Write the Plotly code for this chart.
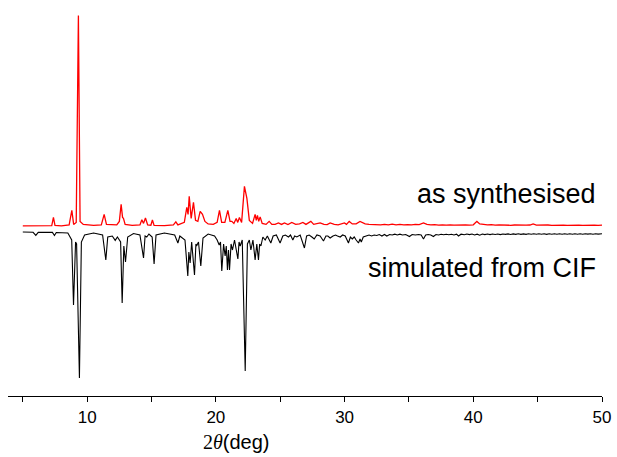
import plotly.graph_objects as go

# ---- data (2theta in degrees, intensity in arbitrary units) ----
exp_2theta = [5.0, 6.0, 7.0, 7.25, 7.38, 7.5, 8.0, 8.6, 8.81, 8.95, 9.15, 9.32, 9.45, 9.7, 10.5,
              11.1, 11.32, 11.5, 12.3, 12.5, 12.64, 12.75, 12.82, 12.95, 13.5, 14.1, 14.25, 14.38,
              14.53, 14.7, 14.95, 15.07, 15.2, 16.0, 16.7, 16.89, 17.05, 17.55, 17.74, 17.84, 17.93,
              18.08, 18.26, 18.42, 18.6, 18.78, 18.96, 19.15, 19.4, 19.8, 20.1, 20.28, 20.45, 20.7,
              20.93, 21.1, 21.24, 21.4, 21.58, 21.7, 21.83, 22.0, 22.22, 22.41, 22.6, 22.85, 23.05,
              23.14, 23.23, 23.33, 23.44, 23.6, 23.9, 24.14, 24.35, 24.6, 24.86, 25.1, 25.33, 25.6,
              25.9, 26.2, 26.5, 26.76, 27.0, 27.38, 27.6, 27.85, 28.1, 28.4, 28.65, 28.88, 29.2,
              29.5, 29.75, 29.99, 30.15, 30.36, 30.6, 30.9, 31.2, 31.4, 31.6, 31.9, 32.2, 32.5,
              32.8, 33.1, 33.4, 33.7, 34.0, 34.3, 34.6, 34.9, 35.2, 35.5, 35.8, 36.13, 36.4, 36.7,
              37.0, 37.3, 37.6, 37.9, 38.2, 38.5, 38.8, 39.1, 39.4, 39.7, 40.0, 40.28, 40.5, 40.8,
              41.1, 41.4, 41.7, 42.0, 42.3, 42.6, 42.9, 43.2, 43.5, 43.8, 44.1, 44.4, 44.65, 44.9,
              45.2, 45.5, 45.8, 46.1, 46.4, 46.7, 47.0, 47.3, 47.6, 47.9, 48.2, 48.5, 48.8, 49.1,
              49.4, 49.7, 50.0]
exp_counts = [0.5, 0.3, 0.6, 0.8, 9, 1, 0.5, 1.5, 16, 2, 4, 211, 5, 2, 1,
              1.5, 12, 2, 1.5, 5, 22, 9, 8, 2, 1, 1.5, 6.7, 3,
              8.4, 1.5, 1.2, 6.4, 1, 0.8, 1.5, 4.5, 1.5, 4, 19, 12, 30,
              8, 24, 6, 5, 15, 12, 5, 2.5, 2, 4, 16, 4, 4,
              16, 5, 5, 3, 8, 4, 9, 4, 40, 28, 6, 3, 12,
              6, 11, 5, 9.5, 3, 2, 5, 2, 2, 3.5, 2, 3.5, 1.8,
              4, 2, 2.5, 4, 2, 5, 2, 2.5, 3.5, 2, 1.8, 3.5, 2,
              1.5, 2.2, 3.5, 2, 5, 2.5, 2.5, 5, 4, 2.5, 2, 1.8, 2.2,
              1.5, 2, 1.5, 2.2, 1.5, 2, 1.5, 1.8, 1.5, 2, 1.8, 3.5, 2, 1.5,
              1.8, 1.2, 1.6, 1.2, 1.6, 1.2, 1.5, 1.2, 1.4, 1.2, 1.6, 5, 2.5, 2,
              1.5, 1.8, 1.3, 1.6, 1.2, 1.5, 1.1, 1.4, 1.1, 1.5, 1.2, 1.4, 2.5, 1.3,
              1.5, 1.2, 1.4, 1.1, 1.4, 1.1, 1.3, 1.1, 1.4, 1.2, 1.3, 1.1, 1.3, 1.1,
              1.3, 1.1, 1.2]

sim_2theta = [5.0, 5.8, 6.01, 6.2, 7.3, 7.46, 7.6, 8.5, 8.8, 8.94, 9.1, 9.18, 9.40, 9.55, 9.8,
              10.5, 11.2, 11.45, 11.6, 11.95, 12.18, 12.35, 12.6, 12.72, 12.85, 12.98, 13.15,
              13.6, 14.1, 14.38, 14.5, 14.63, 14.8, 15.05, 15.2, 15.35, 16.0, 16.8, 17.05, 17.2,
              17.6, 17.82, 17.9, 18.0, 18.12, 18.34, 18.45, 18.5, 18.65, 18.83, 19.0, 19.4, 19.9,
              20.1, 20.26, 20.36, 20.46, 20.6, 20.72, 20.81, 20.9, 20.98, 21.06, 21.18, 21.29,
              21.45, 21.71, 21.8, 21.89, 22.05, 22.28, 22.45, 22.6, 22.72, 22.88, 23.05, 23.18,
              23.31, 23.4, 23.5, 23.65, 23.83, 24.0, 24.27, 24.45, 24.7, 24.99, 25.2, 25.4, 25.64,
              25.8, 25.98, 26.12, 26.29, 26.55, 26.88, 27.05, 27.25, 27.46, 27.64, 27.85, 28.1,
              28.36, 28.55, 28.7, 28.88, 29.1, 29.3, 29.45, 29.66, 29.85, 30.05, 30.3, 30.45,
              30.6, 30.75, 30.9, 31.08, 31.2, 31.3, 31.45, 31.7, 31.9, 32.1, 32.3, 32.5, 32.7,
              32.9, 33.1, 33.28, 33.5, 33.7, 33.9, 34.1, 34.3, 34.5, 34.75, 35.04, 35.25, 35.5,
              35.75, 35.95, 36.13, 36.3, 36.5, 36.7, 36.9, 37.1, 37.3, 37.5, 37.7, 37.9, 38.1,
              38.3, 38.5, 38.7, 38.85, 39.05, 39.3, 39.5, 39.7, 39.9, 40.1, 40.3, 40.5, 40.7,
              40.9, 41.1, 41.3, 41.5, 41.7, 41.9, 42.1, 42.3, 42.5, 42.7, 42.9, 43.1, 43.3, 43.5,
              43.7, 43.9, 44.1, 44.3, 44.5, 44.7, 44.9, 45.1, 45.3, 45.5, 45.7, 45.9, 46.1, 46.3,
              46.5, 46.7, 46.9, 47.1, 47.3, 47.5, 47.7, 47.9, 48.1, 48.3, 48.5, 48.7, 48.9, 49.1,
              49.3, 49.5, 49.7, 50.0]
sim_counts = [0, 0.3, 3.4, 0.3, 0.4, 3.5, 0.5, 1, 8, 73, 10, 12, 146, 10, 3,
              1, 3, 28, 5, 4, 8.4, 5, 10, 71, 14, 30, 5,
              1.5, 3, 26, 4, 5, 2, 5, 32, 3, 1, 3, 11, 4,
              8, 44, 20, 31, 10, 43, 12, 14, 10, 34, 6, 2, 4,
              8, 13, 10, 39, 12, 24, 14, 38, 18, 38, 12, 18,
              8, 27, 10, 14, 8, 139, 12, 8, 18, 8, 28, 12,
              28, 12, 14, 5, 8, 4, 11, 4, 3, 11, 4, 3, 5,
              3, 8, 4, 5, 3, 16, 4, 3, 5, 7, 3, 4,
              9, 4, 4, 6, 4, 3, 4, 5, 3, 4, 11, 5,
              7, 5, 8, 11, 7, 10, 5, 4, 3, 4, 3, 3.5, 2.5,
              4, 2.5, 4, 2.5, 3, 2.2, 3, 2.2, 3, 2.5, 4.5, 2.5, 3,
              2.5, 3, 7, 3, 2.5, 3, 4.5, 2.5, 3, 2.2, 2.8, 2.2, 2.8,
              2.2, 3, 2.2, 4, 2.2, 2.8, 2, 2.6, 2, 3, 2.2, 3.2, 2,
              2.6, 2, 2.6, 2, 2.5, 2, 2.6, 2, 2.4, 1.9, 2.5, 1.9, 2.4, 1.8,
              2.4, 1.9, 2.4, 1.8, 2.3, 1.8, 2.3, 1.8, 2.3, 1.8, 2.4, 1.8, 2.2, 1.7,
              2.3, 1.7, 2.2, 1.7, 2.2, 1.7, 2.3, 1.7, 2.2, 1.7, 2.2, 1.7, 2.1, 1.7,
              2.2, 1.7, 2.1, 1.8]

exp_offset = 5.6          # vertical offset of the measured pattern
labels = ["as synthesised", "simulated from CIF"]
x_ticks = [10, 20, 30, 40, 50]

FONT = "Arial, Liberation Sans, sans-serif"

fig = go.Figure()
fig.add_trace(go.Scatter(x=exp_2theta, y=[exp_offset + v for v in exp_counts],
                         mode="lines", line=dict(color="#ff0000", width=1.3),
                         showlegend=False, hoverinfo="skip"))
fig.add_trace(go.Scatter(x=sim_2theta, y=[-v for v in sim_counts],
                         mode="lines", line=dict(color="#000000", width=1.1),
                         showlegend=False, hoverinfo="skip"))

fig.add_annotation(x=49.7, y=38, xref="x", yref="y", text=labels[0], showarrow=False,
                   xanchor="right", yanchor="middle",
                   font=dict(family=FONT, size=27, color="black"))
fig.add_annotation(x=49.7, y=-36, xref="x", yref="y", text=labels[1], showarrow=False,
                   xanchor="right", yanchor="middle",
                   font=dict(family=FONT, size=27, color="black"))
fig.add_annotation(x=21.6, y=-0.116, xref="x", yref="paper",
                   text='<span style="font-family:Liberation Serif, Times New Roman, serif">2<i>θ</i></span>(deg)',
                   showarrow=False, xanchor="center", yanchor="middle",
                   font=dict(family=FONT, size=20, color="black"))

fig.update_layout(
    width=617, height=457,
    margin=dict(l=8, r=15, t=0, b=61),
    paper_bgcolor="white", plot_bgcolor="white",
    xaxis=dict(range=[3.85, 50], showgrid=False, zeroline=False,
               showline=True, linecolor="black", linewidth=1.3,
               ticks="outside", ticklen=5, tickwidth=1.2, tickcolor="black",
               tickvals=x_ticks, ticktext=[str(t) for t in x_ticks],
               tickfont=dict(family=FONT, size=17, color="black"),
               minor=dict(ticks="outside", ticklen=5, tickwidth=1.2, tickcolor="black",
                          tickvals=[5, 15, 25, 35, 45])),
    yaxis=dict(range=[-164, 232], visible=False),
)

fig.write_html("out.html")
